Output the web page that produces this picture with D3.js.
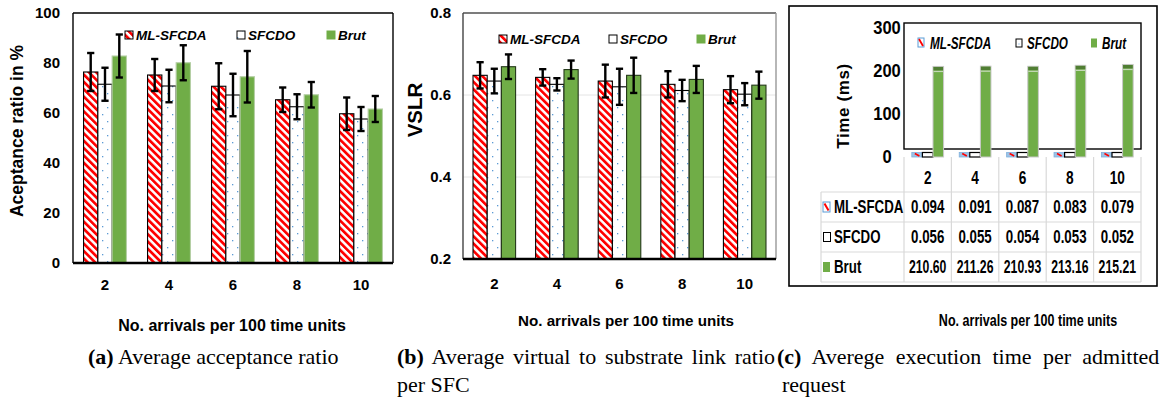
<!DOCTYPE html>
<html><head><meta charset="utf-8">
<script src="https://cdn.jsdelivr.net/npm/d3@7"></script>
<style>
body{margin:0;background:#fff;}
svg{display:block;}
</style></head><body>
<svg id="fig" width="1170" height="404"></svg>
<script>
// ---- data ----
const categories = ["2", "4", "6", "8", "10"];
const seriesNames = ["ML-SFCDA", "SFCDO", "Brut"];

// (a) acceptance ratio in %
const acceptML = [76.4, 75.2, 70.7, 65.3, 59.7];
const acceptSFCDO = [71.5, 70.8, 67.2, 62.5, 57.6];
const acceptBrut = [82.8, 80.1, 74.5, 67.3, 61.6];
const acceptErrML = [7.6, 6.4, 9.2, 4.9, 6.5];
const acceptErrSFCDO = [6.6, 6.5, 8.5, 5.0, 4.8];
const acceptErrBrut = [8.6, 7.0, 10.3, 5.1, 5.2];
const acceptTicks = [0, 20, 40, 60, 80, 100];

// (b) virtual to substrate link ratio
const vslrML = [0.648, 0.643, 0.634, 0.626, 0.613];
const vslrSFCDO = [0.634, 0.626, 0.620, 0.611, 0.602];
const vslrBrut = [0.669, 0.662, 0.648, 0.638, 0.624];
const vslrErrML = [0.032, 0.020, 0.040, 0.032, 0.033];
const vslrErrSFCDO = [0.030, 0.015, 0.044, 0.026, 0.027];
const vslrErrBrut = [0.030, 0.022, 0.043, 0.033, 0.033];
const vslrTicks = [0.2, 0.4, 0.6, 0.8];

// (c) execution time per admitted request (ms)
const timeML = [0.094, 0.091, 0.087, 0.083, 0.079];
const timeSFCDO = [0.056, 0.055, 0.054, 0.053, 0.052];
const timeBrut = [210.60, 211.26, 210.93, 213.16, 215.21];
const timeTicks = [0, 100, 200, 300];

const xTitle = "No. arrivals per 100 time units";

// ---- fonts / colours ----
const SANS = "'Liberation Sans', Arial, sans-serif";
const SERIF = "'Liberation Serif', 'Times New Roman', serif";
const RED = "#ff0000", GREEN = "#70ad47", BLUE = "#5b9bd5";
const NARROW_K = 0.76;   // horizontal squeeze for the condensed labels of panel (c)

const svg = d3.select("#fig");
const defs = svg.append("defs");

// condensed bold text, anchored at (x, y)
function ntext(parent, x, y, str, size, anchor, italic, k) {
  return parent.append("text")
    .attr("transform", `translate(${x},${y}) scale(${k || NARROW_K},1)`)
    .attr("text-anchor", anchor || "start")
    .attr("font-family", SANS).attr("font-weight", "bold")
    .attr("font-style", italic ? "italic" : "normal")
    .attr("font-size", size).attr("fill", "#000").text(str);
}

// red diagonal hatch
const stripes = defs.append("pattern").attr("id", "stripes")
  .attr("patternUnits", "userSpaceOnUse").attr("width", 5.2).attr("height", 5.2)
  .attr("patternTransform", "rotate(-45)");
stripes.append("rect").attr("width", 5.2).attr("height", 5.2).attr("fill", "#fff");
stripes.append("rect").attr("width", 2.7).attr("height", 5.2).attr("fill", RED);

// sparse blue dots
const dots = defs.append("pattern").attr("id", "dots")
  .attr("patternUnits", "userSpaceOnUse").attr("width", 10).attr("height", 14);
dots.append("rect").attr("width", 10).attr("height", 14).attr("fill", "#fff");
dots.append("rect").attr("x", 2).attr("y", 2).attr("width", 1.3).attr("height", 1.3).attr("fill", BLUE);
dots.append("rect").attr("x", 7).attr("y", 9).attr("width", 1.3).attr("height", 1.3).attr("fill", BLUE);

// ---- grouped bar panel with error bars ----
function barPanel(o) {
  const g = svg.append("g");
  const x0 = d3.scaleBand(categories, [o.left, o.right]).paddingInner(o.pad).paddingOuter(o.pad / 2);
  const x1 = d3.scaleBand(seriesNames, [0, x0.bandwidth()]);
  const y = d3.scaleLinear(o.domain, [o.bottom, o.top]);

  if (o.grid) {
    g.append("g").selectAll("line").data(o.ticks.slice(1)).join("line")
      .attr("x1", o.left).attr("x2", o.right)
      .attr("y1", d => y(d)).attr("y2", d => y(d))
      .attr("stroke", "#e4e4e4").attr("stroke-width", 1);
  }

  // frame
  g.append("line").attr("x1", o.left).attr("x2", o.right).attr("y1", o.top).attr("y2", o.top)
    .attr("stroke", o.frameTop).attr("stroke-width", 1.4);
  g.append("line").attr("x1", o.left).attr("x2", o.left).attr("y1", o.top).attr("y2", o.bottom)
    .attr("stroke", o.frameLeft).attr("stroke-width", 1.4);
  g.append("line").attr("x1", o.right).attr("x2", o.right).attr("y1", o.top).attr("y2", o.bottom)
    .attr("stroke", o.frameRight).attr("stroke-width", 1.4);

  const styles = [
    { fill: "url(#stripes)", stroke: "#000" },
    { fill: "url(#dots)", stroke: "#000" },
    { fill: GREEN, stroke: o.greenStroke }
  ];
  const base = o.domain[0];

  o.series.forEach((s, si) => {
    g.append("g").selectAll("rect").data(s.vals).join("rect")
      .attr("x", (d, i) => x0(categories[i]) + x1(seriesNames[si]))
      .attr("y", d => y(d))
      .attr("width", x1.bandwidth())
      .attr("height", d => y(base) - y(d))
      .attr("fill", styles[si].fill)
      .attr("stroke", styles[si].stroke).attr("stroke-width", 1.1);
  });

  // error bars
  o.series.forEach((s, si) => {
    const eg = g.append("g").attr("stroke", "#000").attr("stroke-width", 2.4);
    s.vals.forEach((v, i) => {
      const cx = x0(categories[i]) + x1(seriesNames[si]) + x1.bandwidth() / 2;
      const e = s.errs[i];
      eg.append("line").attr("x1", cx).attr("x2", cx).attr("y1", y(v + e)).attr("y2", y(v - e));
      eg.append("line").attr("x1", cx - 3.6).attr("x2", cx + 3.6).attr("y1", y(v + e)).attr("y2", y(v + e));
      eg.append("line").attr("x1", cx - 3.6).attr("x2", cx + 3.6).attr("y1", y(v - e)).attr("y2", y(v - e));
    });
  });

  // baseline
  g.append("line").attr("x1", o.left).attr("x2", o.right).attr("y1", o.bottom).attr("y2", o.bottom)
    .attr("stroke", "#000").attr("stroke-width", 2.6);

  // y axis
  const ya = g.append("g").attr("transform", `translate(${o.left},0)`)
    .call(d3.axisLeft(y).tickValues(o.ticks).tickSize(0).tickPadding(o.yPad).tickFormat(o.fmt));
  ya.select(".domain").remove();
  ya.selectAll("text").attr("font-family", SANS).attr("font-weight", "bold")
    .attr("font-size", o.tickSize).attr("fill", "#000");

  // x axis
  const xa = g.append("g").attr("transform", `translate(0,${o.bottom})`)
    .call(d3.axisBottom(x0).tickSize(0).tickPadding(o.xPad));
  xa.select(".domain").remove();
  xa.selectAll("text").attr("font-family", SANS).attr("font-weight", "bold")
    .attr("font-size", o.tickSize).attr("fill", "#000");

  // titles
  g.append("text").attr("transform", `translate(${o.yTitleX},${o.yTitleY}) rotate(-90)`)
    .attr("text-anchor", "middle").attr("font-family", SANS).attr("font-weight", "bold")
    .attr("font-size", o.yTitleSize).text(o.yTitle);
  g.append("text").attr("x", o.xTitleX).attr("y", o.xTitleY)
    .attr("text-anchor", "middle").attr("font-family", SANS).attr("font-weight", "bold")
    .attr("font-size", o.xTitleSize).text(xTitle);

  // legend
  seriesNames.forEach((name, si) => {
    const lx = o.legendX[si];
    g.append("rect").attr("x", lx).attr("y", o.legendY - 4).attr("width", 8).attr("height", 8)
      .attr("fill", styles[si].fill).attr("stroke", si === 2 ? GREEN : "#000").attr("stroke-width", 1);
    g.append("text").attr("x", lx + 11).attr("y", o.legendY + 5)
      .attr("font-family", SANS).attr("font-weight", "bold").attr("font-style", "italic")
      .attr("font-size", 13.5).text(name);
  });
}

barPanel({
  left: 73, right: 393, top: 13, bottom: 263, pad: 0.33,
  domain: [0, 100], ticks: acceptTicks, fmt: d3.format("d"),
  series: [
    { vals: acceptML, errs: acceptErrML },
    { vals: acceptSFCDO, errs: acceptErrSFCDO },
    { vals: acceptBrut, errs: acceptErrBrut }
  ],
  greenStroke: "#b5cfa5", grid: false,
  frameTop: "#000", frameLeft: "#000", frameRight: "#000",
  yPad: 13, xPad: 16, tickSize: 15,
  yTitle: "Aceptance ratio in %", yTitleX: 23, yTitleY: 131, yTitleSize: 17.5,
  xTitleX: 232, xTitleY: 331, xTitleSize: 16,
  legendX: [125, 237, 327], legendY: 35
});

barPanel({
  left: 463, right: 776, top: 13, bottom: 259, pad: 0.32,
  domain: [0.2, 0.8], ticks: vslrTicks, fmt: d3.format(".1f"),
  series: [
    { vals: vslrML, errs: vslrErrML },
    { vals: vslrSFCDO, errs: vslrErrSFCDO },
    { vals: vslrBrut, errs: vslrErrBrut }
  ],
  greenStroke: "#24381a", grid: true,
  frameTop: "#555", frameLeft: "#444", frameRight: "#999",
  yPad: 12, xPad: 19, tickSize: 15,
  yTitle: "VSLR", yTitleX: 422, yTitleY: 110, yTitleSize: 20.5,
  xTitleX: 626, xTitleY: 326, xTitleSize: 15.2,
  legendX: [499, 609, 697], legendY: 39
});

// ---- (c) execution time with data table ----
(function () {
  const g = svg.append("g");
  const left = 904, right = 1141, top = 23, frameBottom = 149;
  const x0 = d3.scaleBand(categories, [left, right]).paddingInner(0.33).paddingOuter(0.165);
  const x1 = d3.scaleBand(seriesNames, [0, x0.bandwidth()]);
  const y = d3.scaleLinear([0, 300], [157, 28]);
  const cols = d3.scaleBand(categories, [left, right]);

  // outer box
  g.append("rect").attr("x", 789).attr("y", 6).attr("width", 368).attr("height", 280)
    .attr("fill", "none").attr("stroke", "#000").attr("stroke-width", 1.6);

  // plot frame
  g.append("rect").attr("x", left).attr("y", top).attr("width", right - left).attr("height", frameBottom - top)
    .attr("fill", "none").attr("stroke", "#000").attr("stroke-width", 1.4);

  // table grid
  const rowLines = [192, 222, 252, 282];
  g.append("g").selectAll("line").data(rowLines).join("line")
    .attr("x1", 821).attr("x2", right).attr("y1", d => d).attr("y2", d => d)
    .attr("stroke", "#d9d9d9").attr("stroke-width", 1.2);
  const colEdges = categories.map(c => cols(c)).concat([right]);
  g.append("g").selectAll("line").data(colEdges).join("line")
    .attr("x1", d => d).attr("x2", d => d).attr("y1", 157).attr("y2", 282)
    .attr("stroke", "#d9d9d9").attr("stroke-width", 1.2);
  g.append("line").attr("x1", 821).attr("x2", 821).attr("y1", 192).attr("y2", 282)
    .attr("stroke", "#d9d9d9").attr("stroke-width", 1.2);

  // bars (tiny values get a minimum visible height)
  const minH = 4.5;
  const barTop = d => Math.min(y(d), y(0) - minH);
  g.append("g").selectAll("rect").data(timeML).join("rect")
    .attr("x", (d, i) => x0(categories[i]) + x1("ML-SFCDA"))
    .attr("y", d => barTop(d)).attr("width", x1.bandwidth()).attr("height", d => y(0) - barTop(d))
    .attr("fill", "#9dc3e6").attr("stroke", "#7fb0dd").attr("stroke-width", 0.8);
  g.append("g").selectAll("line").data(timeML).join("line")
    .attr("x1", (d, i) => x0(categories[i]) + x1("ML-SFCDA") + 3)
    .attr("x2", (d, i) => x0(categories[i]) + x1("ML-SFCDA") + x1.bandwidth() - 3)
    .attr("y1", d => barTop(d) + 1).attr("y2", y(0) - 1)
    .attr("stroke", RED).attr("stroke-width", 1.6);
  g.append("g").selectAll("rect").data(timeSFCDO).join("rect")
    .attr("x", (d, i) => x0(categories[i]) + x1("SFCDO"))
    .attr("y", d => barTop(d)).attr("width", x1.bandwidth()).attr("height", d => y(0) - barTop(d))
    .attr("fill", "#fff").attr("stroke", "#000").attr("stroke-width", 1.2);
  const brut = g.append("g");
  brut.selectAll("rect.b").data(timeBrut).join("rect").attr("class", "b")
    .attr("x", (d, i) => x0(categories[i]) + x1("Brut"))
    .attr("y", d => y(d)).attr("width", x1.bandwidth()).attr("height", d => y(0) - y(d))
    .attr("fill", GREEN).attr("stroke", "#c9c9c9").attr("stroke-width", 1);
  brut.selectAll("rect.cap").data(timeBrut).join("rect").attr("class", "cap")
    .attr("x", (d, i) => x0(categories[i]) + x1("Brut") + 0.5)
    .attr("y", d => y(d) + 0.5).attr("width", x1.bandwidth() - 1).attr("height", 3.5)
    .attr("fill", "#507e33");
  brut.selectAll("line").data(timeBrut).join("line")
    .attr("x1", (d, i) => x0(categories[i]) + x1("Brut") + 0.5)
    .attr("x2", (d, i) => x0(categories[i]) + x1("Brut") + x1.bandwidth() - 0.5)
    .attr("y1", d => y(d) + 5).attr("y2", d => y(d) + 5)
    .attr("stroke", "#c5d9b8").attr("stroke-width", 1.3);

  // y axis (labels centred at a fixed column)
  const ya = g.append("g").attr("transform", `translate(${left},0)`)
    .call(d3.axisLeft(y).tickValues(timeTicks).tickSize(0).tickPadding(0));
  ya.select(".domain").remove();
  ya.selectAll("text").attr("x", 0).attr("transform", "translate(-17,0) scale(0.92,1)")
    .attr("text-anchor", "middle")
    .attr("font-family", SANS).attr("font-weight", "bold").attr("font-size", 18).attr("fill", "#000");

  g.append("text").attr("transform", "translate(849,106) rotate(-90)")
    .attr("text-anchor", "middle").attr("font-family", SANS).attr("font-weight", "bold")
    .attr("font-size", 17).attr("letter-spacing", 0.6).text("Time (ms)");

  // legend
  const lgY = 43;
  const legendX = [918, 1016, 1091];
  g.append("rect").attr("x", legendX[0]).attr("y", lgY - 5).attr("width", 6).attr("height", 9)
    .attr("fill", "#fff").attr("stroke", BLUE).attr("stroke-width", 1);
  g.append("line").attr("x1", legendX[0] + 1).attr("y1", lgY - 4).attr("x2", legendX[0] + 5).attr("y2", lgY + 3)
    .attr("stroke", RED).attr("stroke-width", 1.8);
  g.append("rect").attr("x", legendX[1]).attr("y", lgY - 4).attr("width", 6).attr("height", 8)
    .attr("fill", "#fff").attr("stroke", "#000").attr("stroke-width", 1);
  g.append("rect").attr("x", legendX[1] + 2.5).attr("y", lgY + 0.5).attr("width", 1).attr("height", 1).attr("fill", BLUE);
  g.append("rect").attr("x", legendX[2]).attr("y", lgY - 4.5).attr("width", 6).attr("height", 9).attr("fill", GREEN);
  seriesNames.forEach((name, si) => {
    ntext(g, legendX[si] + (si === 0 ? 12 : 11), lgY + 6, name, 16.5, "start", true, 0.71);
  });

  // table header: category labels
  categories.forEach(c => ntext(g, cols(c) + cols.bandwidth() / 2, 184, c, 18, "middle"));

  // table rows
  const rows = [
    { name: "ML-SFCDA", vals: timeML, fmt: d3.format(".3f") },
    { name: "SFCDO", vals: timeSFCDO, fmt: d3.format(".3f") },
    { name: "Brut", vals: timeBrut, fmt: d3.format(".2f") }
  ];
  const rowY = [207, 237, 267];
  rows.forEach((r, ri) => {
    const cy = rowY[ri];
    if (ri === 0) {
      g.append("rect").attr("x", 823).attr("y", cy - 5).attr("width", 7).attr("height", 10)
        .attr("fill", "#fff").attr("stroke", BLUE).attr("stroke-width", 1);
      g.append("line").attr("x1", 824.5).attr("y1", cy - 3.5).attr("x2", 828.5).attr("y2", cy + 3.5)
        .attr("stroke", RED).attr("stroke-width", 2);
    } else if (ri === 1) {
      g.append("rect").attr("x", 823.5).attr("y", cy - 4.5).attr("width", 7).attr("height", 9)
        .attr("fill", "#fff").attr("stroke", "#000").attr("stroke-width", 1);
    } else {
      g.append("rect").attr("x", 823).attr("y", cy - 5).attr("width", 7).attr("height", 10).attr("fill", GREEN);
    }
    ntext(g, 834, cy + 6, r.name, 17.5, "start");
    r.vals.forEach((v, i) => {
      ntext(g, cols(categories[i]) + cols.bandwidth() / 2, cy + 6, r.fmt(v), 17.5, "middle", false,
        r.fmt(v).length > 5 ? 0.7 : NARROW_K);
    });
  });

  ntext(g, 1028, 325.5, xTitle, 16.5, "middle");
})();

// ---- sub-captions (first lines of wrapped captions are justified) ----
const captions = [
  { x: 88, lines: [["(a)", " Average acceptance ratio", 0]] },
  { x: 397, lines: [["(b)", " Average virtual to substrate link ratio", 3.2], ["", "per SFC", 0]] },
  { x: 777, lines: [["(c)", " Averege execution time per admitted", 5.8], ["", "request", 0]], indent: 5 }
];
captions.forEach(c => {
  c.lines.forEach((ln, li) => {
    const t = svg.append("text").attr("x", c.x + (li > 0 && c.indent ? c.indent : 0)).attr("y", 364 + li * 28)
      .attr("font-family", SERIF).attr("font-size", 22).attr("word-spacing", ln[2]).attr("fill", "#000");
    if (ln[0]) t.append("tspan").attr("font-weight", "bold").text(ln[0]);
    t.append("tspan").text(ln[1]);
  });
});
</script>
</body></html>
